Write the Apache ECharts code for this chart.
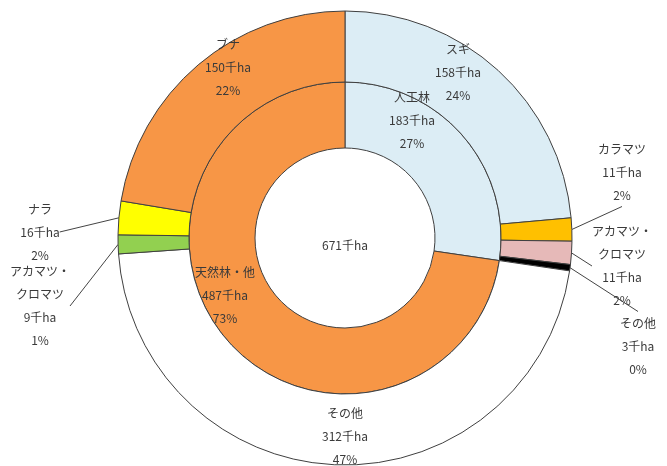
<!DOCTYPE html>
<html>
<head>
<meta charset="utf-8">
<script src="https://cdn.jsdelivr.net/npm/echarts@6/dist/echarts.min.js"></script>
<style>
html,body{margin:0;padding:0;background:#fff;}
#chart{width:667px;height:466px;}
</style>
</head>
<body>
<div id="chart"></div>
<script>
// ---- data ----
const totalLabel = '671千ha';

const innerNames = ['人工林', '天然林・他'];
const innerValues = [183, 487];
const innerPct = [27, 73];

const outerNames = ['スギ', 'カラマツ', 'アカマツ・\nクロマツ', 'その他', 'その他', 'アカマツ・\nクロマツ', 'ナラ', 'ブナ'];
const outerValues = [158, 11, 11, 3, 312, 9, 16, 150];
const outerPct = [24, 2, 2, 0, 47, 1, 2, 22];

// ---- styles / layout ----
const innerColors = ['#dcedf5', '#f79646'];
const outerColors = ['#dcedf5', '#ffc000', '#e6b9b8', '#000000', '#ffffff', '#92d050', '#ffff00', '#f79646'];
const outsideOuter = [false, true, true, true, false, true, true, false];

const innerLabelPos = [[412, 120], [225, 295]];
const outerLabelPos = [[458, 72], [622, 172], [622, 266], [638, 346], [345, 436], [40, 306], [40, 232], [228, 67]];

const textColor = '#3a3a3a';
const fontFamily = '"Noto Sans CJK JP", "Noto Sans", sans-serif';

function fmtLabel(name, value, pct) {
  return name + '\n' + value + '千ha\n' + pct + '%';
}

const innerData = innerNames.map((n, i) => ({
  name: n,
  value: innerValues[i],
  itemStyle: { color: innerColors[i] },
  label: { formatter: fmtLabel(n, innerValues[i], innerPct[i]) }
}));

const outerData = outerNames.map((n, i) => ({
  name: n,
  value: outerValues[i],
  itemStyle: { color: outerColors[i] },
  label: {
    position: outsideOuter[i] ? 'outside' : 'inside',
    formatter: fmtLabel(n, outerValues[i], outerPct[i])
  },
  labelLine: { show: outsideOuter[i] }
}));

const labelStyle = {
  show: true,
  color: textColor,
  fontFamily: fontFamily,
  fontSize: 12,
  lineHeight: 23,
  align: 'center'
};

const chart = echarts.init(document.getElementById('chart'), null, { renderer: 'canvas' });
chart.setOption({
  animation: false,
  backgroundColor: '#ffffff',
  graphic: [{
    type: 'text',
    x: 345, y: 245,
    style: {
      text: totalLabel,
      fill: textColor,
      font: '12px ' + fontFamily,
      align: 'center',
      verticalAlign: 'middle'
    }
  }],
  series: [
    {
      type: 'pie',
      center: [345, 238],
      radius: [90, 156],
      startAngle: 90,
      clockwise: true,
      avoidLabelOverlap: false,
      silent: true,
      itemStyle: { borderColor: '#404040', borderWidth: 1 },
      label: Object.assign({}, labelStyle, { position: 'inside' }),
      labelLine: { show: false },
      labelLayout: function (p) {
        const pos = innerLabelPos[p.dataIndex];
        return { x: pos[0], y: pos[1], align: 'center', verticalAlign: 'middle' };
      },
      data: innerData
    },
    {
      type: 'pie',
      center: [345, 238],
      radius: [156, 227],
      startAngle: 90,
      clockwise: true,
      avoidLabelOverlap: false,
      silent: true,
      itemStyle: { borderColor: '#404040', borderWidth: 1 },
      label: labelStyle,
      labelLine: {
        length: 10,
        length2: 0,
        smooth: false,
        lineStyle: { color: '#444444', width: 1 }
      },
      labelLayout: function (p) {
        const pos = outerLabelPos[p.dataIndex];
        return { x: pos[0], y: pos[1], align: 'center', verticalAlign: 'middle' };
      },
      data: outerData
    }
  ]
});
</script>
</body>
</html>
